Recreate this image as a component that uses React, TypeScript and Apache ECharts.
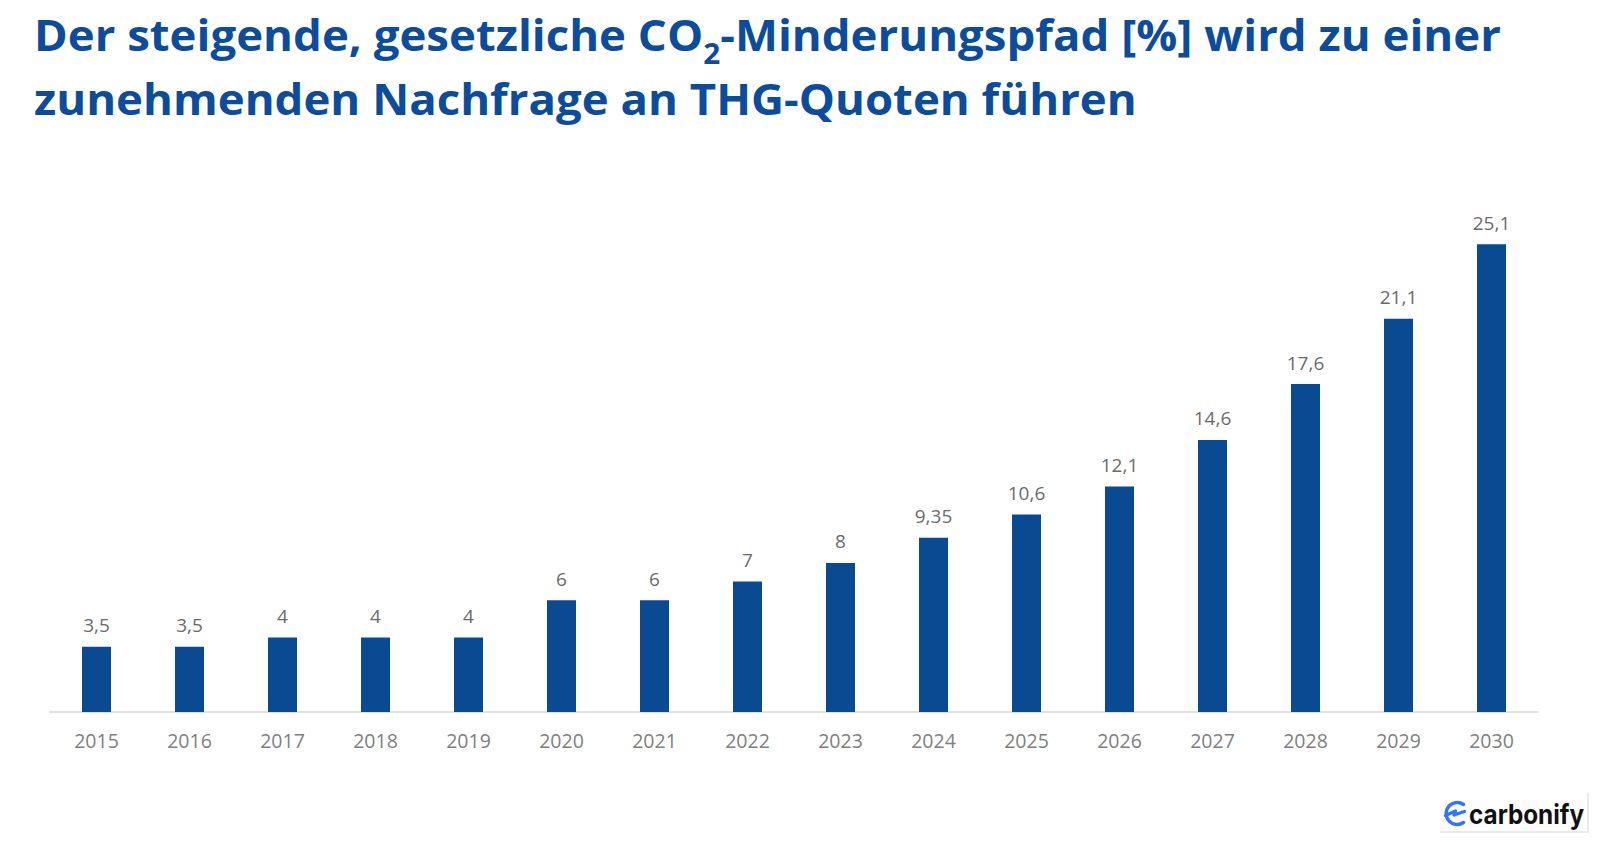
import React, { useEffect, useRef } from "react";
import * as echarts from "echarts";

const years = ["2015","2016","2017","2018","2019","2020","2021","2022","2023","2024","2025","2026","2027","2028","2029","2030"];
const values = [3.5, 3.5, 4, 4, 4, 6, 6, 7, 8, 9.35, 10.6, 12.1, 14.6, 17.6, 21.1, 25.1];

const titleLine1 = "Der steigende, gesetzliche CO{s|2}-Minderungspfad [%] wird zu einer";
const titleLine2 = "zunehmenden Nachfrage an THG-Quoten führen";
const brand = "carbonify";

const logoD = "M20.5 4.5 A11 11 0 1 0 20.5 22.5 M2.5 15.5 L12.5 11 L11 15 L21.5 11.5";

export default function App() {
  const ref = useRef<HTMLDivElement>(null);
  useEffect(() => {
    if (!ref.current) return;
    try {
      echarts.graphic.registerShape("logo", echarts.graphic.extendPath(logoD, {}));
    } catch (e) {}
    const chart = echarts.init(ref.current, null, { renderer: "svg" });
    const font = "'Open Sans', sans-serif";
    chart.setOption({
      animation: false,
      backgroundColor: "#ffffff",
      grid: { left: 50, right: 62, top: 153, bottom: 138 },
      xAxis: {
        type: "category",
        data: years,
        axisLine: { lineStyle: { color: "#d9d9d9", width: 1.5 } },
        axisTick: { show: false },
        axisLabel: { color: "#7f7f7f", fontSize: 19.5, fontFamily: font, margin: 18 },
      },
      yAxis: { type: "value", min: 0, max: 30, show: false, splitLine: { show: false } },
      series: [
        {
          type: "bar",
          data: values,
          barWidth: 29,
          itemStyle: { color: "#0a4a93" },
          label: {
            show: true,
            position: "top",
            distance: 12,
            color: "#6b6b6b",
            fontSize: 19,
            fontFamily: font,
            formatter: (p: any) => String(p.value).replace(".", ","),
          },
        },
      ],
      graphic: [
        {
          type: "text",
          x: 34,
          y: 3,
          scaleX: 1.06,
          style: {
            text: titleLine1 + "\n" + titleLine2,
            fill: "#0b4d9c",
            font: "bold 43px 'Open Sans', sans-serif",
            lineHeight: 64,
            verticalAlign: "top",
            rich: {
              s: {
                fontSize: 28,
                fontWeight: "bold",
                fontFamily: "'Open Sans', sans-serif",
                fill: "#0b4d9c",
                lineHeight: 27,
                verticalAlign: "bottom",
              },
            },
          },
        },
        {
          type: "logo",
          x: 1443,
          y: 800,
          scaleX: 1,
          scaleY: 1,
          style: { fill: "none", stroke: "#3274f2", lineWidth: 3.4, lineCap: "round", lineJoin: "round" },
        },
        {
          type: "text",
          x: 1469,
          y: 814,
          scaleX: 0.9,
          style: {
            text: brand,
            fill: "#111111",
            font: "bold 27px Inter, sans-serif",
            verticalAlign: "middle",
          },
        },
        {
          type: "polyline",
          shape: { points: [[1440, 832], [1588, 832], [1588, 793]] },
          style: { stroke: "#e3e3e3", lineWidth: 1.5, fill: "none" },
        },
      ],
    });
    return () => chart.dispose();
  }, []);
  return (
    <div
      ref={ref}
      style={{ position: "fixed", left: 0, top: 0, width: 1600, height: 850, background: "#fff" }}
    />
  );
}
